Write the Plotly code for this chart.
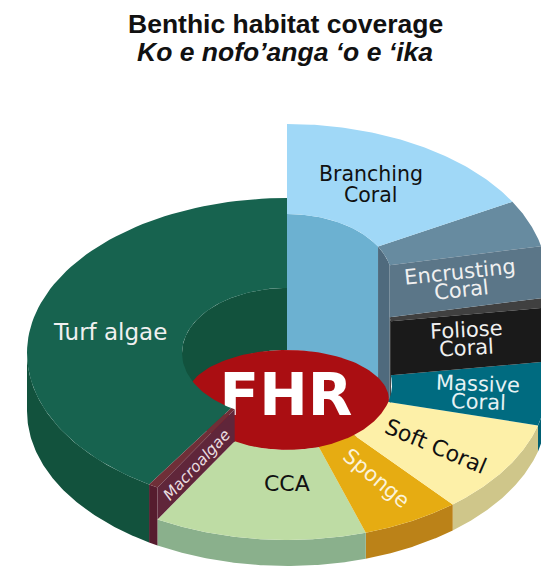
import numpy as np
import plotly.graph_objects as go

# ---- data (clockwise from 12 o'clock) ----
categories = ["Branching Coral", "Encrusting Coral", "Foliose Coral", "Massive Coral",
              "Soft Coral", "Sponge", "CCA", "Macroalgae", "Turf algae"]
coverage = [16.7, 4.9, 1.0, 6.6, 9.8, 6.1, 13.2, 0.6, 41.1]
# terrace height of each slice
slice_height = [132, 132, 80, 26, 26, 26, 26, 58, 58]

title_line1 = "Benthic habitat coverage"
title_line2 = "Ko e nofo’anga ‘o e ‘ika"
centre_label = "FHR"

# ---- styles ----
top_col = ["#a0d8f7", "#678ba0", "#404040", "#006b80", "#fdf0a8", "#e6ac12", "#bedca4", "#6f2f38", "#17634f"]
side_col = ["#6cb1d1", "#5b7688", "#1a1a1a", "#005f72", "#cfc68a", "#bb8218", "#8ab08c", "#561c2e", "#12523d"]
inner_col = ["#6cb1d1", "#4f6a7d", "#1a1a1a", "#005f72", "#cfc68a", "#bb8218", "#8ab08c", "#561c2e", "#12523d"]
step_col = {2: "#5b7688", 3: "#1a1a1a", 7: "#60263a"}  # wall at the boundary before slice i

W, H = 541, 567
CX, BASE_Y = 287, 411
RX, RY = 260, 155
IRX, IRY = 105, 65
HOLE_Y = 415
CAP = dict(cy=400, rx=102, ry=50, color="#aa0e12")

fig = go.Figure()


def poly(xs, ys, color):
    fig.add_trace(go.Scatter(x=list(xs), y=list(ys), mode="lines", fill="toself",
                             fillcolor=color, line=dict(width=0), hoverinfo="skip",
                             showlegend=False))


def arc(t0, t1, n=80):
    return np.radians(np.linspace(t0, t1, n))


def outer(t, cy):
    return CX + RX * np.cos(t), cy - RY * np.sin(t)


def inner(t, cy):
    return CX + IRX * np.cos(t), cy - IRY * np.sin(t)


vals = np.array(coverage, float)
edges = 90 - np.concatenate([[0], np.cumsum(vals)]) / vals.sum() * 360
n = len(vals)
levels = [BASE_Y - h for h in slice_height]

# outer rim walls (visible on the front half only)
for i in range(n):
    a, b = edges[i], edges[i + 1]  # a > b, going clockwise
    for shift in (0, 360):
        t0, t1 = min(a + shift, 360), max(b + shift, 180)
        if t0 > t1:
            t = arc(t0, t1)
            x, y_top = outer(t, levels[i])
            _, y_bot = outer(t, BASE_Y)
            poly(np.r_[x, x[::-1]], np.r_[y_top, y_bot[::-1]], side_col[i])

# inner hole walls (visible on the back half only)
for i in [8, 0, 2, 1]:
    a, b = edges[i], edges[i + 1]
    for shift in (0, 360):
        t0, t1 = min(a + shift, 180), max(b + shift, 0)
        if t0 > t1:
            t = arc(t0, t1)
            x, y_top = inner(t, levels[i])
            _, y_bot = inner(t, HOLE_Y)
            poly(np.r_[x, x[::-1]], np.r_[y_top, y_bot[::-1]], inner_col[i])

# central cap
t = arc(0, 360, 160)
poly(CX + CAP["rx"] * np.cos(t), CAP["cy"] - CAP["ry"] * np.sin(t), CAP["color"])
fig.add_trace(go.Scatter(x=[CX - 1], y=[400], mode="text", text=[centre_label], hoverinfo="skip",
                         showlegend=False,
                         textfont=dict(family="DejaVu Sans", size=58, color="white", weight="bold")))

# top faces
for i in [8, 7, 6, 5, 4, 3, 2, 1, 0]:
    a, b = edges[i], edges[i + 1]
    t = arc(a, b)
    ox, oy = outer(t, levels[i])
    ix, iy = inner(t, levels[i])
    poly(np.r_[ox, ix[::-1]], np.r_[oy, iy[::-1]], top_col[i])

# step walls between a higher slice and its lower neighbour
for i, col in step_col.items():
    high, low = (i - 1, i) if slice_height[i - 1] > slice_height[i] else (i, i - 1)
    e = np.radians(edges[i])
    x_o, y_hi = outer(e, levels[high])
    _, y_lo = outer(e, levels[low])
    x_i, y_hi2 = inner(e, levels[high])
    _, y_lo2 = inner(e, levels[low])
    poly([x_o, x_i, x_i, x_o], [y_hi, y_hi2, y_lo2, y_lo], col)

SANS = "DejaVu Sans"
labels = [
    ("Branching", 371, 174, 0, 20.5, "#111111"),
    ("Coral", 371, 195, 0, 20.5, "#111111"),
    ("Encrusting", 460, 272, -6, 21, "#f0f0f0"),
    ("Coral", 461, 290, -6, 21, "#f0f0f0"),
    ("Foliose", 466, 330, -3, 21, "#f0f0f0"),
    ("Coral", 466, 348, -3, 21, "#f0f0f0"),
    ("Massive", 478, 384, 2, 21, "#e6f2f4"),
    ("Coral", 478, 402, 2, 21, "#e6f2f4"),
    ("Soft Coral", 436, 446, 23, 22, "#111111"),
    ("Sponge", 376, 478, 40, 21, "#fbf3da"),
    ("CCA", 287, 483, 0, 22, "#111111"),
    ("<i>Macroalgae</i>", 197, 465, -47, 15.5, "#eadde0"),
    ("Turf algae", 110, 332, 0, 23, "#f0f0f0"),
]
ann = [dict(x=x, y=y, text=s, textangle=r, showarrow=False, xanchor="center", yanchor="middle",
            font=dict(family=SANS, size=sz, color=c)) for s, x, y, r, sz, c in labels]
ann.append(dict(x=285, y=24, text=f"<b>{title_line1}</b>", showarrow=False,
                font=dict(family="Liberation Sans", size=26.5, color="#111111")))
ann.append(dict(x=285, y=52, text=f"<b><i>{title_line2}</i></b>", showarrow=False,
                font=dict(family="Liberation Sans", size=26.5, color="#111111")))

fig.update_layout(
    width=W, height=H, margin=dict(l=0, r=0, t=0, b=0), autosize=False,
    paper_bgcolor="white", plot_bgcolor="white", showlegend=False, annotations=ann,
    xaxis=dict(range=[0, W], visible=False, fixedrange=True),
    yaxis=dict(range=[H, 0], visible=False, fixedrange=True),
)
# The page's default body margin would push the figure out of the window
fig.write_html("out.html", config=dict(displayModeBar=False),
               post_script="document.body.style.margin='0';"
                           "document.documentElement.style.overflow='hidden';")
